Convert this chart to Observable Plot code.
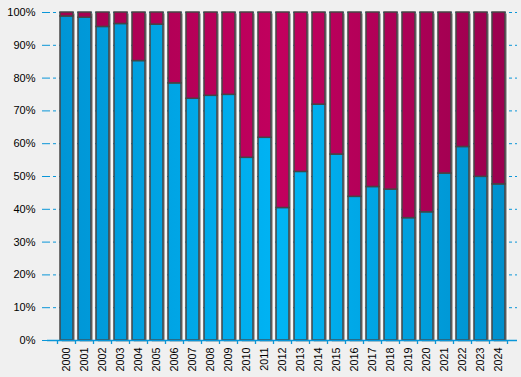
<!DOCTYPE html>
<html><head><meta charset="utf-8">
<script src="https://cdn.jsdelivr.net/npm/d3@7"></script>
<script src="https://cdn.jsdelivr.net/npm/@observablehq/plot@0.6"></script>
<style>html,body{margin:0;padding:0;background:#f0f0f0;overflow:hidden}</style>
</head><body><div id="chart"></div><script>
const years = ["2000","2001","2002","2003","2004","2005","2006","2007","2008","2009","2010","2011","2012","2013","2014","2015","2016","2017","2018","2019","2020","2021","2022","2023","2024"];
const shareBlue = [98.8, 98.4, 95.6, 96.5, 85.2, 96.3, 78.4, 73.7, 74.6, 74.9, 55.7, 61.8, 40.4, 51.4, 71.9, 56.7, 43.8, 46.8, 46.0, 37.3, 39.1, 50.9, 59.0, 49.9, 47.6];
const shareRed  = [1.2, 1.6, 4.4, 3.5, 14.8, 3.7, 21.6, 26.3, 25.4, 25.1, 44.3, 38.2, 59.6, 48.6, 28.1, 43.3, 56.2, 53.2, 54.0, 62.7, 60.9, 49.1, 41.0, 50.1, 52.4];
const yTicks = [0,10,20,30,40,50,60,70,80,90,100];
const totals = [100,100,100,100,100,100,100,100,100,100,100,100,100,100,100,100,100,100,100,100,100,100,100,100,100];

const rows = [];
years.forEach((y,i) => {
  rows.push({year: y, series: "A", value: shareBlue[i]});
  rows.push({year: y, series: "B", value: shareRed[i]});
});
const totalRows = years.map((y, i) => ({year: y, total: totals[i]}));

const BLUE = "#0a96d8";
const ns = "http://www.w3.org/2000/svg";

function defsMark(index, scales, values, dims) {
  const g = document.createElementNS(ns, "g");
  const defs = document.createElementNS(ns, "defs");
  const x0 = dims.marginLeft, x1 = dims.width - dims.marginRight;
  const mk = (id, stops) => {
    const lg = document.createElementNS(ns, "linearGradient");
    lg.setAttribute("id", id);
    lg.setAttribute("gradientUnits", "userSpaceOnUse");
    lg.setAttribute("x1", x0); lg.setAttribute("x2", x1);
    lg.setAttribute("y1", 0); lg.setAttribute("y2", 0);
    stops.forEach(([o, c]) => {
      const s = document.createElementNS(ns, "stop");
      s.setAttribute("offset", o); s.setAttribute("stop-color", c);
      lg.appendChild(s);
    });
    defs.appendChild(lg);
  };
  mk("gA", [[0, "#0093d3"], [0.5, "#00b4f4"], [1, "#008ecb"]]);
  mk("gB", [[0, "#a3004f"], [0.5, "#c2005e"], [1, "#99004e"]]);
  g.appendChild(defs);
  return g;
}

function xTicks(index, scales, values, dims) {
  const x = scales.x;
  const step = x(years[1]) - x(years[0]);
  const bw = typeof x.bandwidth === "function" ? x.bandwidth() : step * 0.70;
  const gap = step - bw;
  const yb = dims.height - dims.marginBottom;
  const g = document.createElementNS(ns, "g");
  const pos = years.map(y => x(y) - gap / 2);
  pos.push(x(years[years.length - 1]) + bw + gap / 2);
  pos.forEach(px => {
    const l = document.createElementNS(ns, "line");
    l.setAttribute("x1", px); l.setAttribute("x2", px);
    l.setAttribute("y1", yb); l.setAttribute("y2", yb + 4);
    l.setAttribute("stroke", BLUE); l.setAttribute("stroke-width", 1.3);
    g.appendChild(l);
  });
  return g;
}

const chart = Plot.plot({
  width: 521, height: 377,
  marginLeft: 47, marginRight: 4, marginTop: 12, marginBottom: 37,
  style: {background: "#f0f0f0", fontFamily: "'Liberation Sans', Arial, sans-serif", fontSize: "11px", color: "black"},
  x: {domain: years, paddingInner: 0.30, paddingOuter: 0.11, label: null},
  y: {domain: [0, 100], label: null},
  color: {type: "identity"},
  marks: [
    defsMark,
    Plot.gridY(yTicks, {stroke: BLUE, strokeOpacity: 1, strokeDasharray: "3,3", strokeWidth: 1}),
    Plot.barY(totalRows, {x: "year", y: "total", fill: "#fafafa", dx: 3.5, dy: 1.5}),
    Plot.barY(totalRows, {x: "year", y: "total", fill: "#9c9c9c", dx: 1.8, dy: 1.5}),
    Plot.barY(rows, Plot.stackY({x: "year", y: "value", fill: d => d.series === "A" ? "url(#gA)" : "url(#gB)", stroke: "#454545", strokeWidth: 1.5})),
    Plot.ruleY([0], {stroke: BLUE, strokeWidth: 1.3}),
    Plot.axisY({ticks: yTicks, tickFormat: d => d + "%", tickSize: 5, tickPadding: 7, stroke: BLUE, fill: "black", fontSize: 11}),
    Plot.axisX({tickRotate: -90, tickSize: 0, tickPadding: 7, fill: "black", fontSize: 10.8}),
    xTicks
  ]
});
document.getElementById("chart").appendChild(chart);
</script></body></html>
